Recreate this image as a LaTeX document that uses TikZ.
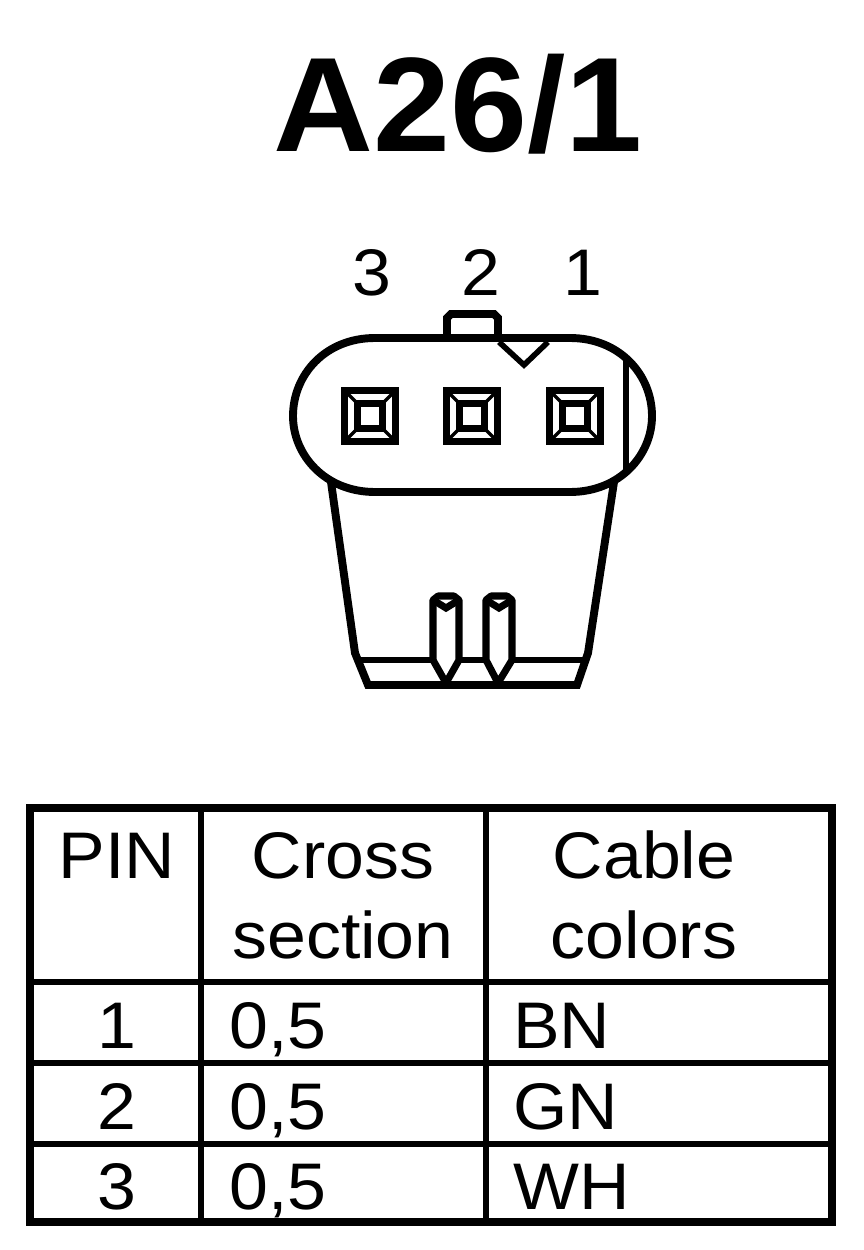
\documentclass[tikz,border=0pt]{standalone}
\usepackage{fontspec}
\setmainfont{Liberation Sans}
\newfontfamily\widefont[FakeStretch=1.06]{Liberation Sans}
\newfontfamily\titlefont[FakeStretch=1.03]{Liberation Sans}
\usetikzlibrary{positioning}
\tikzset{
    label text/.style={anchor=base, inner sep=0pt, font=\widefont\fontsize{37.5}{37.5}\selectfont},
    entry text/.style={anchor=base west, inner sep=0pt, font=\widefont\fontsize{37.5}{37.5}\selectfont},
    heavy/.style={line width=4.5pt, line join=miter},
    contact/.style={line width=4pt, line join=miter},
    medium/.style={line width=3.2pt, line join=miter},
    diagonal/.style={line width=2pt}
}
\begin{document}
\begin{tikzpicture}[x=0.02cm, y=-0.02cm]
    \useasboundingbox[fill=white] (0,0) rectangle (864,1250);

    \node[anchor=base, inner sep=0pt, font=\titlefont\fontsize{76.5}{76.5}\selectfont\bfseries] (title) at (458,152) {A26/1};

    \node[label text] (pinthree) at (372,295) {3};
    \node[label text] (pintwo) at (481,295) {2};
    \node[label text] (pinone) at (583,295) {1};

    % skirt
    \draw[heavy] (331,482) -- (355,653) -- (368,685) -- (577,685) -- (588,653) -- (614,482);
    \draw[medium] (358,660) -- (586,660);

    % latches
    \foreach \px/\tip in {446/446, 499/498} {
        \filldraw[contact, fill=white, line join=bevel] (\px-13,660) -- (\px-13,600) -- (\px-8,596) -- (\px+8,596) -- (\px+13,600) -- (\px+13,660) -- (\tip,683) -- cycle;
        \draw[contact] (\px-13,600) -- (\px,608) -- (\px+13,600);
    }

    % housing
    \draw[heavy] (447,338) -- (447,318) -- (451,314) -- (494,314) -- (498,318) -- (498,338);
    \draw[heavy] (375,338) -- (570,338)
        .. controls (620,338) and (652,375) .. (652,416)
        .. controls (652,455) and (620,492) .. (570,492)
        -- (375,492)
        .. controls (325,492) and (293,455) .. (293,416)
        .. controls (293,375) and (325,338) .. cycle;
    \draw[medium] (499,342) -- (524,365) -- (548,342);
    \draw[medium] (626,358) -- (626,474);

    % contacts
    \foreach \cx in {370,472,575} {
        \draw[contact] (\cx-25.5,390.5) rectangle (\cx+25.5,441.5);
        \draw[contact] (\cx-12.5,403.5) rectangle (\cx+12.5,428.5);
        \draw[diagonal] (\cx-25,391) -- (\cx-12,404);
        \draw[diagonal] (\cx+25,391) -- (\cx+12,404);
        \draw[diagonal] (\cx-25,441) -- (\cx-12,428);
        \draw[diagonal] (\cx+25,441) -- (\cx+12,428);
    }

    % table
    \draw[heavy] (30,808) rectangle (832,1222);
    \draw[medium] (30,982) -- (832,982);
    \draw[medium] (30,1063) -- (832,1063);
    \draw[medium] (30,1144) -- (832,1144);
    \draw[medium] (201,808) -- (201,1222);
    \draw[medium] (486,808) -- (486,1222);

    \node[label text] (headpin) at (117,878) {PIN};
    \node[label text] (headcross) at (343,878) {Cross};
    \node[label text] (headsection) at (343,958) {section};
    \node[label text] (headcable) at (644,878) {Cable};
    \node[label text] (headcolors) at (644,958) {colors};

    \foreach \rownum/\rowy/\cablecol in {1/1048/BN, 2/1129/GN, 3/1209/WH} {
        \node[label text] (num\rownum) at (117,\rowy) {\rownum};
        \node[entry text] (cross\rownum) at (229,\rowy) {0,5};
        \node[entry text] (color\rownum) at (513,\rowy) {\cablecol};
    }
\end{tikzpicture}
\end{document}
